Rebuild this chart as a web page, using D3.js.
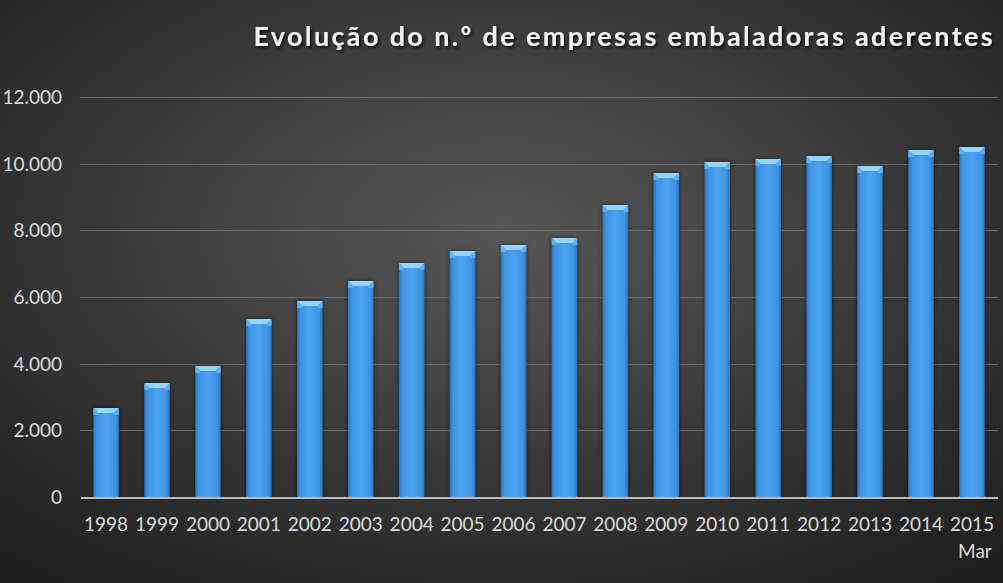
<!DOCTYPE html>
<html><head><meta charset="utf-8">
<script src="https://cdn.jsdelivr.net/npm/d3@7"></script>
<style>html,body{margin:0;padding:0;background:#2a2a2a;}svg{display:block;}</style>
</head><body>
<script>
const categories = ["1998","1999","2000","2001","2002","2003","2004","2005","2006","2007","2008","2009","2010","2011","2012","2013","2014","2015"];
const subLabels = ["","","","","","","","","","","","","","","","","","Mar"];
const values = [2670,3420,3930,5340,5880,6480,7020,7380,7560,7770,8760,9720,10050,10140,10230,9930,10410,10500];
const yTicks = [0,2000,4000,6000,8000,10000,12000];
const title = "Evolução do n.º de empresas embaladoras aderentes";

const W = 1003, H = 583;
const FONT = "Lato, 'Open Sans', sans-serif";
const svg = d3.select("body").append("svg").attr("width", W).attr("height", H);
const defs = svg.append("defs");
const bg = defs.append("radialGradient").attr("id","bg").attr("cx","50%").attr("cy","40%").attr("r","75%");
bg.append("stop").attr("offset","0%").attr("stop-color","#575757");
bg.append("stop").attr("offset","100%").attr("stop-color","#1e1e1e");
svg.append("rect").attr("width",W).attr("height",H).attr("fill","url(#bg)");

const bar = defs.append("linearGradient").attr("id","bar").attr("x1","0").attr("x2","1").attr("y1","0").attr("y2","0");
bar.append("stop").attr("offset","0%").attr("stop-color","#2a70b5");
bar.append("stop").attr("offset","12%").attr("stop-color","#3e92df");
bar.append("stop").attr("offset","50%").attr("stop-color","#4ca2ee");
bar.append("stop").attr("offset","88%").attr("stop-color","#3e92df");
bar.append("stop").attr("offset","100%").attr("stop-color","#2a70b5");

const sh = defs.append("filter").attr("id","ts").attr("x","-10%").attr("y","-30%").attr("width","120%").attr("height","160%");
sh.append("feDropShadow").attr("dx",1.5).attr("dy",2).attr("stdDeviation",1.5).attr("flood-color","#000").attr("flood-opacity",0.8);
const bsh = defs.append("filter").attr("id","bs").attr("x","-30%").attr("y","-5%").attr("width","160%").attr("height","110%");
bsh.append("feDropShadow").attr("dx",0).attr("dy",0).attr("stdDeviation",2).attr("flood-color","#000").attr("flood-opacity",0.6);

const x = d3.scaleBand().domain(categories).range([80.6, 997.4]).paddingInner(0.5).paddingOuter(0.25);
const y = d3.scaleLinear().domain([0,12000]).range([497, 97]);

// gridlines
svg.append("g").selectAll("line").data(yTicks.filter(d=>d>0)).join("line")
  .attr("x1",80).attr("x2",998).attr("y1",d=>Math.round(y(d))+0.5).attr("y2",d=>Math.round(y(d))+0.5)
  .attr("stroke","#6a6a6a").attr("stroke-width",1);

// y axis labels
const yAxis = d3.axisLeft(y).tickValues(yTicks).tickSize(0).tickPadding(0)
  .tickFormat(d => d3.format(",")(d).replace(/,/g,"."));
const ya = svg.append("g").attr("transform","translate(62,0)").call(yAxis);
ya.select(".domain").remove();
ya.selectAll("text").attr("fill","#dcdcdc").attr("font-family",FONT).attr("font-size",19).attr("dy","0.35em");

// bars
const g = svg.append("g");
const bw = x.bandwidth();
g.selectAll("rect.b").data(values).join("rect").attr("class","b")
  .attr("x",(d,i)=>x(categories[i])).attr("width",bw)
  .attr("y",d=>y(d)).attr("height",d=>y(0)-y(d))
  .attr("fill","url(#bar)").attr("filter","url(#bs)");
// bevel top
g.selectAll("path.t").data(values).join("path").attr("class","t")
  .attr("d",(d,i)=>{const x0=x(categories[i]), yt=y(d); const b=5;
    return `M${x0},${yt} L${x0+bw},${yt} L${x0+bw-b},${yt+b} L${x0+b},${yt+b} Z`;})
  .attr("fill","#92d6ff");
g.selectAll("path.s").data(values).join("path").attr("class","s")
  .attr("d",(d,i)=>{const x0=x(categories[i]), yt=y(d); const b=5;
    return `M${x0},${yt} L${x0+b},${yt+b} L${x0+b},${yt+b+2} L${x0},${yt+b+2} Z M${x0+bw},${yt} L${x0+bw-b},${yt+b} L${x0+bw-b},${yt+b+2} L${x0+bw},${yt+b+2} Z`;})
  .attr("fill","#5fb0f0");

// x axis
svg.append("line").attr("x1",81).attr("x2",998).attr("y1",498).attr("y2",498).attr("stroke","#bcbcbc").attr("stroke-width",2);
const xa = d3.axisBottom(x).tickSize(0).tickPadding(0);
const xg = svg.append("g").attr("transform","translate(0,531)").call(xa);
xg.select(".domain").remove();
xg.selectAll("text").attr("fill","#dcdcdc").attr("font-family",FONT).attr("font-size",19).attr("dy","0");
svg.append("g").selectAll("text").data(subLabels).join("text")
  .attr("x",(d,i)=>x(categories[i])+bw/2+3).attr("y",558).attr("text-anchor","middle")
  .attr("fill","#dcdcdc").attr("font-family",FONT).attr("font-size",19).text(d=>d);

// title
svg.append("text").attr("x",995).attr("y",46).attr("text-anchor","end")
  .attr("fill","#f2f2f2").attr("font-family",FONT).attr("font-weight","bold")
  .attr("font-size",27).attr("letter-spacing",2.35).attr("filter","url(#ts)").text(title);
</script>
</body></html>
